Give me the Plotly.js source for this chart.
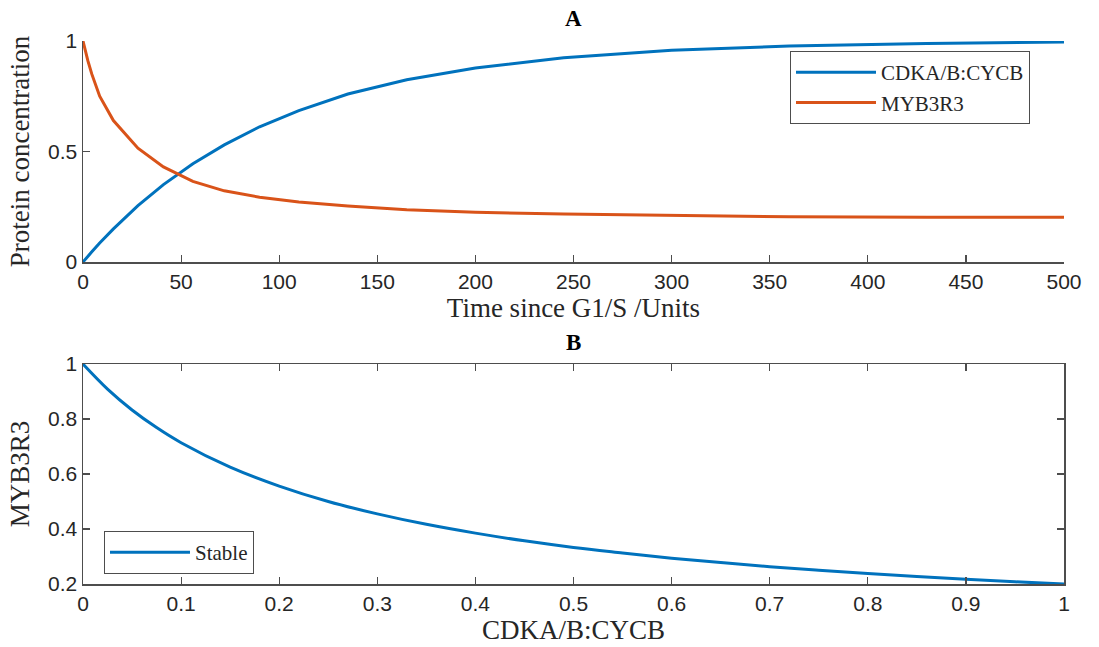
<!DOCTYPE html>
<html>
<head>
<meta charset="utf-8">
<script src="https://cdn.plot.ly/plotly-3.0.1.min.js"></script>
<style>html,body{margin:0;padding:0;background:#fff;}#chart{width:1099px;height:647px;}</style>
</head>
<body>
<div id="chart"></div>
<script>
// Panel A: time course
const timeUnits = [0, 1, 2.5, 4.5, 8.5, 15.5, 28, 41, 56, 72, 90, 110, 135, 165, 200, 245, 300, 360, 430, 500];
const cdkaCycb  = [0, 0.011, 0.026, 0.046, 0.086, 0.15, 0.255, 0.35, 0.445, 0.53, 0.612, 0.685, 0.76, 0.825, 0.878, 0.924, 0.958, 0.977, 0.989, 0.995];
const myb3r3    = [1, 0.96, 0.91, 0.85, 0.75, 0.64, 0.515, 0.43, 0.365, 0.322, 0.293, 0.272, 0.253, 0.236, 0.225, 0.217, 0.21, 0.205, 0.203, 0.202];

// Panel B: MYB3R3 vs CDKA/B:CYCB (stable)
const cdkaLevel   = [0, 0.025, 0.05, 0.075, 0.1, 0.15, 0.2, 0.25, 0.3, 0.35, 0.4, 0.45, 0.5, 0.55, 0.6, 0.65, 0.7, 0.75, 0.8, 0.85, 0.9, 0.95, 1];
const stableMyb   = [1, 0.909, 0.833, 0.769, 0.714, 0.625, 0.556, 0.5, 0.455, 0.417, 0.385, 0.357, 0.333, 0.313, 0.294, 0.278, 0.263, 0.25, 0.238, 0.227, 0.217, 0.208, 0.2];

const seriesNames = ['CDKA/B:CYCB', 'MYB3R3', 'Stable'];
const panelTitles = ['A', 'B'];
const xTitles = ['Time since G1/S /Units', 'CDKA/B:CYCB'];
const yTitles = ['Protein concentration', 'MYB3R3'];
const xTicksA = [0, 50, 100, 150, 200, 250, 300, 350, 400, 450, 500];
const yTicksA = [0, 0.5, 1];
const xTicksB = [0, 0.1, 0.2, 0.3, 0.4, 0.5, 0.6, 0.7, 0.8, 0.9, 1];
const yTicksB = [0.2, 0.4, 0.6, 0.8, 1];

const blue = '#0072BD', orange = '#D95319';
const axisColor = '#4d4d4d';
const tickFont = {family: 'Liberation Sans, Arial, sans-serif', size: 21, color: '#262626'};
const serif = 'Liberation Serif, DejaVu Serif, serif';
const titleFont = {family: serif, size: 27, color: '#262626'};

const traces = [
  {x: timeUnits, y: cdkaCycb, name: seriesNames[0], type: 'scatter', mode: 'lines', line: {color: blue, width: 3}, xaxis: 'x', yaxis: 'y', legend: 'legend'},
  {x: timeUnits, y: myb3r3, name: seriesNames[1], type: 'scatter', mode: 'lines', line: {color: orange, width: 3}, xaxis: 'x', yaxis: 'y', legend: 'legend'},
  {x: cdkaLevel, y: stableMyb, name: seriesNames[2], type: 'scatter', mode: 'lines', line: {color: blue, width: 3, shape: 'spline'}, xaxis: 'x2', yaxis: 'y2', legend: 'legend2'}
];

const axBase = {
  showline: true, linecolor: axisColor, linewidth: 1.5,
  ticks: 'inside', ticklen: 7, tickcolor: axisColor, tickwidth: 1.2,
  showgrid: false, zeroline: false, tickfont: tickFont
};
const lbl = a => a.map(v => String(v));

const layout = {
  width: 1099, height: 647,
  paper_bgcolor: '#fff', plot_bgcolor: '#fff',
  margin: {l: 83, r: 35, t: 41, b: 63},
  showlegend: true,
  xaxis: Object.assign({}, axBase, {domain: [0, 1], range: [0, 500], tickvals: xTicksA, ticktext: lbl(xTicksA), anchor: 'y',
    title: {text: xTitles[0], font: titleFont, standoff: 5}}),
  yaxis: Object.assign({}, axBase, {domain: [0.593, 1], range: [0, 1], tickvals: yTicksA, ticktext: lbl(yTicksA), anchor: 'x',
    title: {text: yTitles[0], font: titleFont, standoff: 10}}),
  xaxis2: Object.assign({}, axBase, {domain: [0, 1], range: [0, 1], anchor: 'y2', mirror: 'ticks',
    tickvals: xTicksB, ticktext: lbl(xTicksB),
    title: {text: xTitles[1], font: titleFont, standoff: 5}}),
  yaxis2: Object.assign({}, axBase, {domain: [0, 0.405], range: [0.2, 1], tickvals: yTicksB, ticktext: lbl(yTicksB), anchor: 'x2', mirror: 'ticks',
    title: {text: yTitles[1], font: titleFont, standoff: 10}}),
  legend: {x: 0.7207, y: 0.9816, xanchor: 'left', yanchor: 'top', bgcolor: '#fff', bordercolor: axisColor, borderwidth: 1,
    font: {family: serif, size: 21, color: '#262626'}, itemwidth: 80, tracegroupgap: 0},
  legend2: {x: 0.0214, y: 0.0976, xanchor: 'left', yanchor: 'top', bgcolor: '#fff', bordercolor: axisColor, borderwidth: 1,
    font: {family: serif, size: 21, color: '#262626'}, itemwidth: 80},
  annotations: [
    {text: '<b>' + panelTitles[0] + '</b>', xref: 'paper', yref: 'paper', x: 0.5, y: 1, yshift: 23, xanchor: 'center', yanchor: 'middle', showarrow: false, font: {family: serif, size: 23, color: '#000'}},
    {text: '<b>' + panelTitles[1] + '</b>', xref: 'paper', yref: 'paper', x: 0.5, y: 0.405, yshift: 22, xanchor: 'center', yanchor: 'middle', showarrow: false, font: {family: serif, size: 23, color: '#000'}}
  ]
};

Plotly.newPlot('chart', traces, layout, {displayModeBar: false, staticPlot: true});
</script>
</body>
</html>
